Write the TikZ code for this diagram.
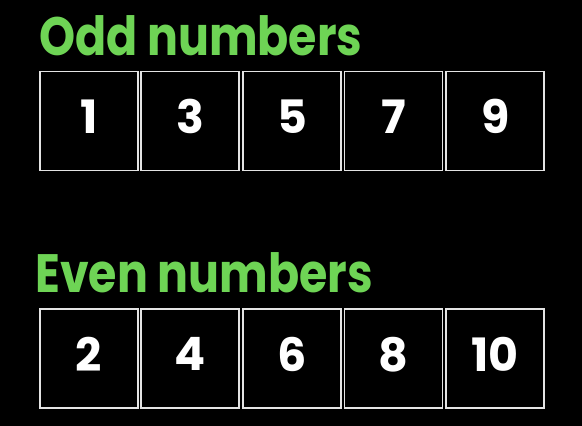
\documentclass[tikz,border=0pt]{standalone}
\usepackage{fontspec}
\setmainfont{Poppins}
\newfontfamily\titlefont[FakeStretch=0.85]{Poppins}
\definecolor{titlegreen}{RGB}{110,212,85}
\definecolor{boxgray}{RGB}{228,228,228}
\tikzstyle{my title} = [anchor=base west, inner sep=0pt, text=titlegreen, font=\titlefont\fontsize{54}{54}\selectfont\bfseries]
\tikzstyle{my cell} = [draw=boxgray, line width=1.8pt, minimum width=98pt, minimum height=99pt, inner sep=0pt, text=white, text depth=9pt, font=\fontsize{46}{46}\selectfont\bfseries]

\begin{document}
\begin{tikzpicture}[x=1pt,y=-1pt]
  \fill[black] (0,0) rectangle (582,426);
  \useasboundingbox (0,0) rectangle (582,426);
  % Odd numbers
  \node[my title] (oddtitle) at (39,55) {Odd numbers};
  \foreach \n [count=\i from 0] in {1,3,5,7,9}{
    \node[my cell] (odd\i) at (88.75+101.6*\i, 121) {\n};
  }
  % Even numbers
  \node[my title] (eventitle) at (35,292.5) {Even numbers};
  \foreach \n [count=\i from 0] in {2,4,6,8,10}{
    \node[my cell] (even\i) at (88.75+101.6*\i, 358.5) {\n};
  }
\end{tikzpicture}
\end{document}
